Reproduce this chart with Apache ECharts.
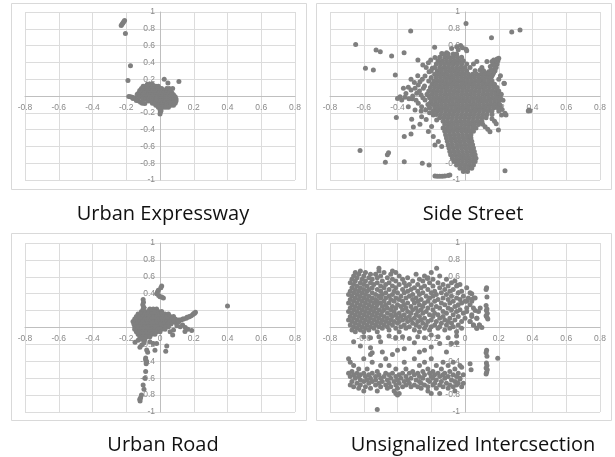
<!DOCTYPE html>
<html>
<head>
<meta charset="utf-8">
<script src="https://cdn.jsdelivr.net/npm/echarts@6/dist/echarts.min.js"></script>
<style>html,body{margin:0;padding:0;background:#fff;}#chart{width:615px;height:457px;}</style>
</head>
<body>
<div id="chart"></div>
<script>
// ---------- titles & ticks ----------
const panelTitles = ['Urban Expressway', 'Side Street', 'Urban Road', 'Unsignalized Intercsection'];
const xTicks = [-0.8, -0.6, -0.4, -0.2, 0, 0.2, 0.4, 0.6, 0.8];
const yTicks = [-1, -0.8, -0.6, -0.4, -0.2, 0, 0.2, 0.4, 0.6, 0.8, 1];

// ---------- Urban Expressway ----------
const expresswayPoints = [[-0.23,0.84],[-0.225,0.855],[-0.22,0.87],[-0.215,0.885],[-0.21,0.9],[-0.205,0.745],[-0.175,0.36],[-0.19,0.185],[0.025,0.2],[0.047,0.155],[0.112,0.172],[0.075,0.088],[-0.135,0.02],
[-0.185,-0.005],[-0.175,-0.01],[-0.165,-0.015],[-0.155,-0.02],[-0.145,-0.03],[-0.135,-0.045],[-0.125,-0.06],[-0.115,-0.075],[-0.105,-0.085],[-0.09,-0.09],[-0.16,-0.03],[-0.14,-0.055],
[0.0,-0.16],[0.002,-0.19],[0.0,-0.215],[0.006,-0.175]];
const expresswayRows = [
 [0.14, [-0.075,-0.06,-0.045]],
 [0.115,[-0.1,-0.085,-0.07,-0.055,-0.04,-0.025,-0.01]],
 [0.09, [-0.11,-0.095,-0.08,-0.065,-0.05,-0.035,-0.02,-0.005,0.01,0.04,0.055]],
 [0.065,[-0.12,-0.105,-0.09,-0.075,-0.06,-0.045,-0.03,-0.015,0,0.015,0.03,0.045,0.06]],
 [0.04, [-0.125,-0.11,-0.095,-0.08,-0.065,-0.05,-0.035,-0.02,-0.005,0.01,0.025,0.04,0.055,0.07]],
 [0.015,[-0.13,-0.115,-0.1,-0.085,-0.07,-0.055,-0.04,-0.025,-0.01,0.005,0.02,0.035,0.05,0.065,0.08]],
 [-0.01,[-0.12,-0.105,-0.09,-0.075,-0.06,-0.045,-0.03,-0.015,0,0.015,0.03,0.045,0.06,0.075,0.09]],
 [-0.035,[-0.1,-0.085,-0.07,-0.055,-0.04,-0.025,-0.01,0.005,0.02,0.035,0.05,0.065,0.08,0.095]],
 [-0.06,[-0.07,-0.055,-0.04,-0.025,-0.01,0.005,0.02,0.035,0.05,0.065,0.08,0.095]],
 [-0.085,[-0.045,-0.03,-0.015,0,0.015,0.03,0.045,0.06,0.075,0.09]],
 [-0.11,[-0.025,-0.01,0.005,0.02,0.035,0.05,0.065,0.08]],
 [-0.135,[-0.01,0.005,0.02,0.035,0.05]]
];

// ---------- Side Street ----------
const sideStreetPoints = [[-0.648,0.614],[-0.527,0.547],[-0.502,0.527],[-0.435,0.475],[-0.361,0.515],[-0.322,0.775],[-0.59,0.329],[-0.543,0.309],[-0.413,0.25],[-0.279,0.428],[0.006,0.863],[0.157,0.694],[0.277,0.763],[0.326,0.785],[-0.18,0.58],
[-0.622,-0.65],[-0.46,-0.7],[-0.453,-0.675],[-0.472,-0.79],[-0.36,-0.782],[-0.253,-0.8],[-0.213,-0.82],[0.237,-0.89],[0.385,-0.175],[0.379,-0.168],[0.375,-0.18],[0.233,0.15],[0.243,-0.226],
[-0.407,-0.257],[-0.36,-0.483],[-0.32,-0.451],[-0.316,-0.277],[-0.306,-0.368],[-0.267,-0.337],
[-0.178,-0.952],[-0.165,-0.955],[-0.15,-0.955],[-0.135,-0.955],[-0.12,-0.952],[-0.1,-0.945],[-0.09,-0.94],
[-0.336,0.103],[-0.32,0.071],[-0.356,-0.016],[-0.332,-0.032],[-0.312,-0.032],[-0.286,0.032],[-0.267,0.17],[-0.253,0.198],[-0.237,0.238],[-0.213,0.289],[-0.194,0.329],[-0.217,0.396],[-0.203,0.428],[-0.178,0.459],[-0.138,0.507],[-0.109,0.515],[-0.079,0.566],[-0.049,0.586],
[-0.277,-0.087],[-0.257,-0.127],[-0.233,-0.166],[-0.237,-0.048],[-0.26,0.012],[-0.296,0.091],[-0.277,0.131],[-0.247,0.091],[-0.221,0.012],[-0.207,-0.087],[-0.188,-0.226],[-0.168,-0.285],[-0.198,-0.364],[-0.217,-0.424],[-0.188,-0.483],[-0.158,-0.543],[-0.178,-0.582],[-0.138,-0.602],[-0.257,-0.246],[-0.296,-0.166],[-0.336,-0.127],[-0.375,-0.048],[-0.385,-0.008],[-0.365,0.091],
[-0.3,0.16],[-0.32,0.2],[-0.27,0.06],[-0.25,-0.02],[-0.29,-0.05],[-0.24,0.12],[-0.26,-0.18],[-0.23,-0.28],[-0.21,-0.2],[-0.31,0.0],[-0.35,0.03],[-0.4,-0.03],[-0.28,0.24],[-0.23,0.34],[-0.25,0.37],
[-0.026,0.6],[-0.015,0.575],[0.006,0.556],[0.01,0.54],[-0.04,0.55],
[0.2,0.45],[0.19,0.44],[0.195,0.42],[0.185,0.4],[0.19,0.38],[0.18,0.36],[0.185,0.34],[0.175,0.32],[0.178,0.3],[0.17,0.28],[0.165,0.26],[0.16,0.24],[0.155,0.22],[0.17,0.43],[0.16,0.41],[0.165,0.37],[0.15,0.35],[0.155,0.31],[0.14,0.29],[0.145,0.25],[0.13,0.23],[0.12,0.27],[0.07,0.41],[0.13,0.41],[0.09,0.31],[0.1,0.2],[0.11,0.18],[0.231,0.151],[0.2,0.2],[0.21,0.24],
[0.089,-0.306],[0.105,-0.335],[0.119,-0.365],[0.135,-0.395],[0.148,-0.425],[0.198,-0.405],[0.217,-0.226],[0.237,-0.206],[0.175,-0.3],[0.16,-0.27],[0.185,-0.33],[0.22,-0.16],[0.21,-0.12],[0.225,-0.05]];
const sideStreetRows = [
 [0.5, [-0.13,-0.1,-0.07,-0.05]],
 [0.46,[-0.15,-0.12,-0.095,-0.07,-0.045,-0.02]],
 [0.42,[-0.16,-0.135,-0.11,-0.085,-0.06,-0.035,-0.01]],
 [0.38,[-0.17,-0.145,-0.12,-0.095,-0.07,-0.045,-0.02,0.01,0.05]],
 [0.34,[-0.18,-0.15,-0.125,-0.1,-0.075,-0.05,-0.025,0.0,0.03,0.1]],
 [0.3, [-0.2,-0.165,-0.14,-0.115,-0.09,-0.065,-0.04,-0.015,0.01,0.06,0.11]],
 [0.26,[-0.18,-0.155,-0.13,-0.105,-0.08,-0.055,-0.03,-0.005,0.02,0.045,0.07,0.095,0.12,0.14]],
 [0.22,[-0.2,-0.17,-0.145,-0.12,-0.095,-0.07,-0.045,-0.02,0.005,0.03,0.055,0.08,0.105,0.13,0.15]],
 [0.18,[-0.215,-0.185,-0.16,-0.135,-0.11,-0.085,-0.06,-0.035,-0.01,0.015,0.04,0.065,0.09,0.115,0.14,0.16]],
 [0.14,[-0.195,-0.17,-0.145,-0.12,-0.095,-0.07,-0.045,-0.02,0.005,0.03,0.055,0.08,0.105,0.13,0.155,0.175]],
 [0.1, [-0.205,-0.18,-0.155,-0.13,-0.105,-0.08,-0.055,-0.03,-0.005,0.02,0.045,0.07,0.095,0.12,0.145,0.17,0.19]],
 [0.06,[-0.215,-0.19,-0.165,-0.14,-0.115,-0.09,-0.065,-0.04,-0.015,0.01,0.035,0.06,0.085,0.11,0.135,0.16,0.185,0.2]],
 [0.02,[-0.225,-0.195,-0.17,-0.145,-0.12,-0.095,-0.07,-0.045,-0.02,0.005,0.03,0.055,0.08,0.105,0.13,0.155,0.18,0.2,0.215]],
 [-0.02,[-0.21,-0.185,-0.16,-0.135,-0.11,-0.085,-0.06,-0.035,-0.01,0.015,0.04,0.065,0.09,0.115,0.14,0.165,0.19,0.21]],
 [-0.06,[-0.2,-0.175,-0.15,-0.125,-0.1,-0.075,-0.05,-0.025,0.0,0.025,0.05,0.075,0.1,0.125,0.15,0.175,0.2]],
 [-0.1,[-0.22,-0.19,-0.165,-0.14,-0.115,-0.09,-0.065,-0.04,-0.015,0.01,0.035,0.06,0.085,0.11,0.135,0.16,0.185,0.205]],
 [-0.14,[-0.21,-0.18,-0.155,-0.13,-0.105,-0.08,-0.055,-0.03,-0.005,0.02,0.045,0.07,0.095,0.12,0.145,0.17,0.195]],
 [-0.18,[-0.19,-0.165,-0.14,-0.115,-0.09,-0.065,-0.04,-0.015,0.01,0.035,0.06,0.085,0.11,0.135,0.16,0.2]],
 [-0.22,[-0.17,-0.145,-0.12,-0.095,-0.07,-0.045,-0.02,0.005,0.03,0.055,0.08,0.105,0.13,0.16]],
 [-0.26,[-0.15,-0.125,-0.1,-0.075,-0.05,-0.025,0.0,0.025,0.05,0.075,0.1,0.125]],
 [-0.3,[-0.13,-0.105,-0.08,-0.055,-0.03,-0.005,0.02,0.045,0.07,0.1]],
 [-0.34,[-0.12,-0.095,-0.07,-0.045,-0.02,0.005,0.03,0.055,0.08]],
 [-0.38,[-0.13,-0.105,-0.08,-0.055,-0.03,-0.005,0.02,0.045,0.065]],
 [-0.42,[-0.12,-0.095,-0.07,-0.045,-0.02,0.005,0.03,0.05]],
 [-0.46,[-0.115,-0.09,-0.065,-0.04,-0.015,0.01,0.035]],
 [-0.5,[-0.11,-0.085,-0.06,-0.035,-0.01,0.015,0.035]],
 [-0.54,[-0.105,-0.08,-0.055,-0.03,-0.005,0.02,0.04]],
 [-0.58,[-0.1,-0.075,-0.05,-0.025,0.0,0.025,0.045]],
 [-0.62,[-0.095,-0.07,-0.045,-0.02,0.005,0.03,0.05]],
 [-0.66,[-0.09,-0.065,-0.04,-0.015,0.01,0.035,0.055]],
 [-0.7,[-0.085,-0.06,-0.035,-0.01,0.015,0.04,0.06]],
 [-0.74,[-0.075,-0.05,-0.025,0.0,0.025,0.05,0.065]],
 [-0.78,[-0.065,-0.04,-0.015,0.01,0.035,0.06]],
 [-0.82,[-0.05,-0.025,0.0,0.025,0.05]],
 [-0.86,[-0.03,-0.005,0.02,0.04]],
 [-0.9,[-0.01,0.015]]
];

// ---------- Urban Road ----------
const urbanRoadPoints = [[0.08,0.075],[0.095,0.08],[0.11,0.085],[0.125,0.09],[0.14,0.1],[0.155,0.11],[0.17,0.125],[0.185,0.14],[0.195,0.155],[0.205,0.17],[0.21,0.18],[0.2,0.165],[0.175,0.13],[0.16,0.12],[0.135,0.1],[0.115,0.09],[0.1,0.09],[0.085,0.1],[0.07,0.11],[0.09,0.06],[0.11,0.065],
[0.148,-0.048],[0.188,-0.036],[0.075,-0.09],[0.134,0.03],[0.12,0.01],[0.1,0.02],[0.15,0.0],[0.165,-0.02],[0.08,-0.03],[0.06,-0.05],
[0.01,0.49],[0.005,0.47],[-0.01,0.44],[-0.015,0.42],[-0.008,0.38],[0.0,0.365],[0.01,0.36],[0.02,0.35],[-0.02,0.4],[-0.1,0.33],[-0.098,0.3],[-0.102,0.27],[-0.096,0.24],[-0.1,0.22],[0.4,0.253],
[-0.148,-0.174],[-0.119,-0.234],[-0.073,-0.293],[-0.03,-0.27],[0.034,-0.28],[0.04,-0.22],[-0.02,-0.19],[-0.108,-0.208],[-0.079,-0.267],[-0.04,-0.19],[-0.13,-0.15],[-0.06,-0.17],[-0.095,-0.18],
[-0.085,-0.36],[-0.08,-0.4],[-0.082,-0.43],[-0.085,-0.52],[-0.09,-0.6],[-0.1,-0.68],[-0.095,-0.73],[-0.11,-0.8],[-0.115,-0.83],[-0.12,-0.85],[-0.118,-0.87],[-0.085,-0.38],[-0.08,-0.41]];
const urbanRoadRows = [
 [0.22,[-0.06,-0.04,-0.02]],
 [0.19,[-0.11,-0.09,-0.07,-0.05,-0.03,-0.01,0.01]],
 [0.16,[-0.13,-0.11,-0.09,-0.07,-0.05,-0.03,-0.01,0.01,0.03,0.05]],
 [0.13,[-0.14,-0.12,-0.1,-0.08,-0.06,-0.04,-0.02,0.0,0.02,0.04,0.06,0.08]],
 [0.1, [-0.15,-0.13,-0.11,-0.09,-0.07,-0.05,-0.03,-0.01,0.01,0.03,0.05,0.07,0.09]],
 [0.07,[-0.16,-0.14,-0.12,-0.1,-0.08,-0.06,-0.04,-0.02,0.0,0.02,0.04,0.06,0.08]],
 [0.04,[-0.155,-0.135,-0.115,-0.095,-0.075,-0.055,-0.035,-0.015,0.005,0.025,0.045,0.065]],
 [0.01,[-0.15,-0.13,-0.11,-0.09,-0.07,-0.05,-0.03,-0.01,0.01,0.03,0.05]],
 [-0.02,[-0.15,-0.13,-0.11,-0.09,-0.07,-0.05,-0.03,-0.01,0.01,0.03]],
 [-0.05,[-0.14,-0.12,-0.1,-0.08,-0.06,-0.04,-0.02,0.0]],
 [-0.08,[-0.13,-0.11,-0.09,-0.07,-0.05,-0.03]],
 [-0.11,[-0.12,-0.1,-0.08,-0.06]],
 [-0.14,[-0.11,-0.09]]
];

// ---------- Unsignalized Intersection ----------
const intersectionPoints = [[0.128,0.47],[0.125,0.45],[0.13,0.36],[0.125,0.26],[0.13,0.22],[0.127,0.2],[0.132,0.17],[0.125,0.14],[0.13,0.12],[0.135,0.1],
[0.128,-0.27],[0.125,-0.3],[0.13,-0.34],[0.127,-0.42],[0.13,-0.45],[0.125,-0.48],[0.132,-0.5],[0.128,-0.53],[0.125,-0.55],[0.194,-0.364],
[0.03,-0.43],[0.036,-0.5],[-0.02,-0.47],[-0.03,-0.61],[0.01,0.31],[0.04,0.31],[0.053,0.35],[0.01,0.19],[0.04,0.13],[0.07,0.11],[0.03,0.07],[0.05,0.03],[0.085,0.03],[0.1,0.0],[0.07,-0.01],[0.06,0.2],[0.09,0.23],[0.04,0.4],[-0.045,0.5],[-0.168,0.7],[-0.223,0.58],[-0.51,0.7],
[-0.6,-0.11],[-0.56,-0.12],[-0.51,-0.11],[-0.45,-0.1],[-0.41,-0.12],[-0.37,-0.11],[-0.33,-0.13],[-0.28,-0.11],[-0.24,-0.12],[-0.2,-0.09],[-0.16,-0.11],[-0.1,-0.12],[-0.05,-0.1],[-0.62,-0.22],[-0.56,-0.24],[-0.56,-0.32],[-0.55,-0.3],[-0.49,-0.29],[-0.43,-0.32],[-0.4,-0.27],[-0.36,-0.25],[-0.27,-0.29],[-0.24,-0.27],[-0.2,-0.23],[-0.15,-0.19],[-0.08,-0.19],[-0.05,-0.18],[-0.11,-0.29],[-0.66,-0.17],[-0.5,-0.17],[-0.3,-0.18],
[-0.52,-0.97]];
const intersectionRows = [
 [0.67,[-0.62,-0.51,-0.43]],
 [0.65,[-0.65,-0.59,-0.48,-0.41,-0.2]],
 [0.63,[-0.63,-0.56,-0.53,-0.44,-0.29]],
 [0.61,[-0.66,-0.6,-0.5,-0.39,-0.24,-0.15]],
 [0.59,[-0.64,-0.57,-0.52,-0.46,-0.34,-0.22]],
 [0.57,[-0.67,-0.61,-0.55,-0.43,-0.37,-0.27,-0.19,-0.11]],
 [0.55,[-0.65,-0.59,-0.49,-0.41,-0.31,-0.25,-0.06]],
 [0.53,[-0.68,-0.62,-0.56,-0.52,-0.45,-0.36,-0.21,-0.16,-0.08]],
 [0.51,[-0.66,-0.6,-0.54,-0.47,-0.39,-0.33,-0.28,-0.13,-0.03]],
 [0.49,[-0.64,-0.58,-0.5,-0.43,-0.35,-0.24,-0.19,-0.1,-0.05]],
 [0.47,[-0.67,-0.62,-0.55,-0.48,-0.41,-0.3,-0.26,-0.15,0.01]],
 [0.45,[-0.65,-0.6,-0.57,-0.52,-0.45,-0.37,-0.32,-0.22,-0.12,-0.07]],
 [0.43,[-0.68,-0.63,-0.58,-0.5,-0.42,-0.34,-0.28,-0.18,-0.09,-0.02]],
 [0.41,[-0.66,-0.61,-0.55,-0.47,-0.4,-0.36,-0.25,-0.2,-0.14,-0.04,0.03]],
 [0.39,[-0.69,-0.64,-0.59,-0.53,-0.49,-0.43,-0.31,-0.27,-0.17,-0.11]],
 [0.37,[-0.67,-0.62,-0.57,-0.51,-0.45,-0.38,-0.33,-0.23,-0.19,-0.08,-0.01]],
 [0.35,[-0.65,-0.6,-0.55,-0.5,-0.47,-0.41,-0.35,-0.29,-0.21,-0.13,-0.05,0.02,0.06]],
 [0.33,[-0.68,-0.63,-0.58,-0.53,-0.44,-0.39,-0.31,-0.26,-0.16,-0.1,-0.03,0.04]],
 [0.31,[-0.66,-0.61,-0.56,-0.52,-0.48,-0.42,-0.37,-0.28,-0.22,-0.18,-0.07,0.0]],
 [0.29,[-0.69,-0.64,-0.59,-0.54,-0.5,-0.45,-0.34,-0.3,-0.24,-0.14,-0.09,-0.02]],
 [0.27,[-0.67,-0.62,-0.57,-0.52,-0.47,-0.4,-0.36,-0.27,-0.2,-0.12,-0.04,0.03]],
 [0.25,[-0.65,-0.6,-0.55,-0.49,-0.43,-0.38,-0.32,-0.25,-0.17,-0.06]],
 [0.23,[-0.68,-0.63,-0.58,-0.53,-0.46,-0.41,-0.35,-0.29,-0.22,-0.15,-0.1,0.01,0.05]],
 [0.21,[-0.66,-0.61,-0.56,-0.51,-0.48,-0.44,-0.37,-0.31,-0.26,-0.19,-0.08,-0.03]],
 [0.19,[-0.69,-0.64,-0.59,-0.54,-0.49,-0.42,-0.34,-0.28,-0.23,-0.13,-0.05,0.08]],
 [0.17,[-0.67,-0.62,-0.57,-0.52,-0.46,-0.39,-0.32,-0.25,-0.18,-0.11,-0.01]],
 [0.15,[-0.65,-0.6,-0.55,-0.5,-0.44,-0.41,-0.36,-0.29,-0.21,-0.16,-0.07,0.04]],
 [0.13,[-0.68,-0.63,-0.58,-0.53,-0.48,-0.43,-0.38,-0.33,-0.27,-0.19,-0.13,-0.04]],
 [0.11,[-0.66,-0.61,-0.56,-0.51,-0.46,-0.4,-0.35,-0.3,-0.24,-0.15,-0.09,0.0,0.07]],
 [0.09,[-0.69,-0.64,-0.59,-0.54,-0.49,-0.44,-0.37,-0.32,-0.26,-0.2,-0.12,-0.06]],
 [0.07,[-0.67,-0.62,-0.57,-0.52,-0.47,-0.42,-0.39,-0.34,-0.28,-0.22,-0.17,-0.1,-0.02,0.03]],
 [0.05,[-0.65,-0.6,-0.55,-0.5,-0.45,-0.4,-0.31,-0.25,-0.14,-0.08]],
 [0.03,[-0.68,-0.63,-0.58,-0.53,-0.48,-0.43,-0.36,-0.29,-0.23,-0.18,-0.11,-0.04,0.05,0.085]],
 [0.01,[-0.66,-0.61,-0.56,-0.51,-0.46,-0.38,-0.33,-0.27,-0.2,-0.15,-0.07]],
 [-0.01,[-0.64,-0.59,-0.54,-0.49,-0.41,-0.35,-0.24,-0.16,-0.09,-0.02,0.07]],
 [-0.03,[-0.67,-0.62,-0.57,-0.45,-0.3,-0.21,-0.12]],
 [-0.05,[-0.65,-0.6,-0.52,-0.39,-0.27,-0.05]],
 [-0.37,[-0.69,-0.6,-0.47,-0.3,-0.2]],
 [-0.41,[-0.68,-0.55,-0.36,-0.24,-0.13,-0.07]],
 [-0.45,[-0.66,-0.5,-0.45,-0.27,-0.17,-0.1,-0.03]],
 [-0.49,[-0.63,-0.58,-0.41,-0.35,-0.22,-0.14,-0.06]],
 [-0.52,[-0.67,-0.52,-0.31,-0.25,-0.19,-0.09]],
 [-0.54,[-0.69,-0.64,-0.6,-0.55,-0.47,-0.43,-0.37,-0.33,-0.28,-0.21,-0.16,-0.12,-0.04]],
 [-0.56,[-0.66,-0.62,-0.57,-0.51,-0.45,-0.39,-0.3,-0.24,-0.18,-0.13,-0.07,-0.01]],
 [-0.58,[-0.68,-0.63,-0.59,-0.53,-0.48,-0.41,-0.35,-0.27,-0.2,-0.15,-0.1,-0.05]],
 [-0.6,[-0.65,-0.56,-0.5,-0.44,-0.38,-0.32,-0.25,-0.19,-0.12,-0.03]],
 [-0.62,[-0.62,-0.58,-0.53,-0.46,-0.4,-0.34,-0.29,-0.22,-0.17,-0.08]],
 [-0.64,[-0.67,-0.6,-0.55,-0.49,-0.42,-0.36,-0.27,-0.21,-0.14,-0.06]],
 [-0.66,[-0.64,-0.57,-0.51,-0.45,-0.39,-0.33,-0.26,-0.18,-0.11,-0.04,-0.01]],
 [-0.68,[-0.68,-0.62,-0.53,-0.47,-0.41,-0.35,-0.3,-0.24,-0.19,-0.15,-0.09,-0.05]],
 [-0.7,[-0.66,-0.59,-0.5,-0.44,-0.37,-0.32,-0.28,-0.22,-0.13,-0.07,-0.02]],
 [-0.72,[-0.63,-0.56,-0.46,-0.4,-0.26,-0.17,-0.1]],
 [-0.75,[-0.6,-0.52,-0.42,-0.22,-0.06]],
 [-0.78,[-0.41,-0.39,-0.2,-0.15]],
 [-0.8,[-0.4]]
];

function buildData(points, rows) {
  const out = points.slice();
  rows.forEach(function (r) { r[1].forEach(function (x) { out.push([x, r[0]]); }); });
  return out;
}
const panelData = [
  buildData(expresswayPoints, expresswayRows),
  buildData(sideStreetPoints, sideStreetRows),
  buildData(urbanRoadPoints, urbanRoadRows),
  buildData(intersectionPoints, intersectionRows)
];

const grids = [
  {left: 25, top: 12, width: 270, height: 168},
  {left: 330, top: 12, width: 270, height: 168},
  {left: 25, top: 243, width: 270, height: 169},
  {left: 330, top: 243, width: 270, height: 169}
];
const labelColor = '#8a8a8a';
const fmt = function (v) { const r = Math.round(v * 10) / 10; return String(r); };

const option = {
  animation: false,
  backgroundColor: '#fff',
  grid: grids,
  xAxis: grids.map(function (g, i) {
    return {
      type: 'value', gridIndex: i, min: xTicks[0], max: xTicks[xTicks.length - 1], interval: 0.2,
      position: 'bottom', offset: -g.height / 2,
      axisLine: {onZero: false, lineStyle: {color: '#bfbfbf', width: 1}},
      axisTick: {show: false},
      axisLabel: {fontSize: 8.5, color: labelColor, margin: 7, fontFamily: 'Liberation Sans', formatter: fmt, showMinLabel: true, showMaxLabel: true},
      splitLine: {show: true, lineStyle: {color: '#dcdcdc', width: 1}}
    };
  }),
  yAxis: grids.map(function (g, i) {
    return {
      type: 'value', gridIndex: i, min: yTicks[0], max: yTicks[yTicks.length - 1], interval: 0.2,
      position: 'left', offset: -g.width / 2,
      axisLine: {onZero: false, lineStyle: {color: '#bfbfbf', width: 1}},
      axisTick: {show: false},
      axisLabel: {fontSize: 8.5, color: labelColor, margin: 5, fontFamily: 'Liberation Sans', formatter: fmt, showMinLabel: true, showMaxLabel: true},
      splitLine: {show: true, lineStyle: {color: '#dcdcdc', width: 1}}
    };
  }),
  title: [
    {text: panelTitles[0], left: 163, top: 204},
    {text: panelTitles[1], left: 473, top: 204},
    {text: panelTitles[2], left: 163, top: 435},
    {text: panelTitles[3], left: 473, top: 435}
  ].map(function (t) {
    return Object.assign(t, {textAlign: 'center', padding: 0, textStyle: {fontSize: 20, fontWeight: 'normal', color: '#111', fontFamily: 'Open Sans'}});
  }),
  graphic: [
    {type: 'rect', shape: {x: 11.5, y: 3.5, width: 295, height: 186}, style: {fill: 'none', stroke: '#d9d9d9', lineWidth: 1}, z: -1},
    {type: 'rect', shape: {x: 316.5, y: 3.5, width: 295, height: 186}, style: {fill: 'none', stroke: '#d9d9d9', lineWidth: 1}, z: -1},
    {type: 'rect', shape: {x: 11.5, y: 233.5, width: 295, height: 187}, style: {fill: 'none', stroke: '#d9d9d9', lineWidth: 1}, z: -1},
    {type: 'rect', shape: {x: 316.5, y: 233.5, width: 295, height: 187}, style: {fill: 'none', stroke: '#d9d9d9', lineWidth: 1}, z: -1}
  ],
  series: panelData.map(function (d, i) {
    return {
      type: 'scatter', xAxisIndex: i, yAxisIndex: i, data: d, symbol: 'circle', symbolSize: 5,
      itemStyle: {color: '#7f7f7f', opacity: 1}, silent: true
    };
  })
};
const chart = echarts.init(document.getElementById('chart'), null, {renderer: 'canvas'});
chart.setOption(option);
</script>
</body>
</html>
